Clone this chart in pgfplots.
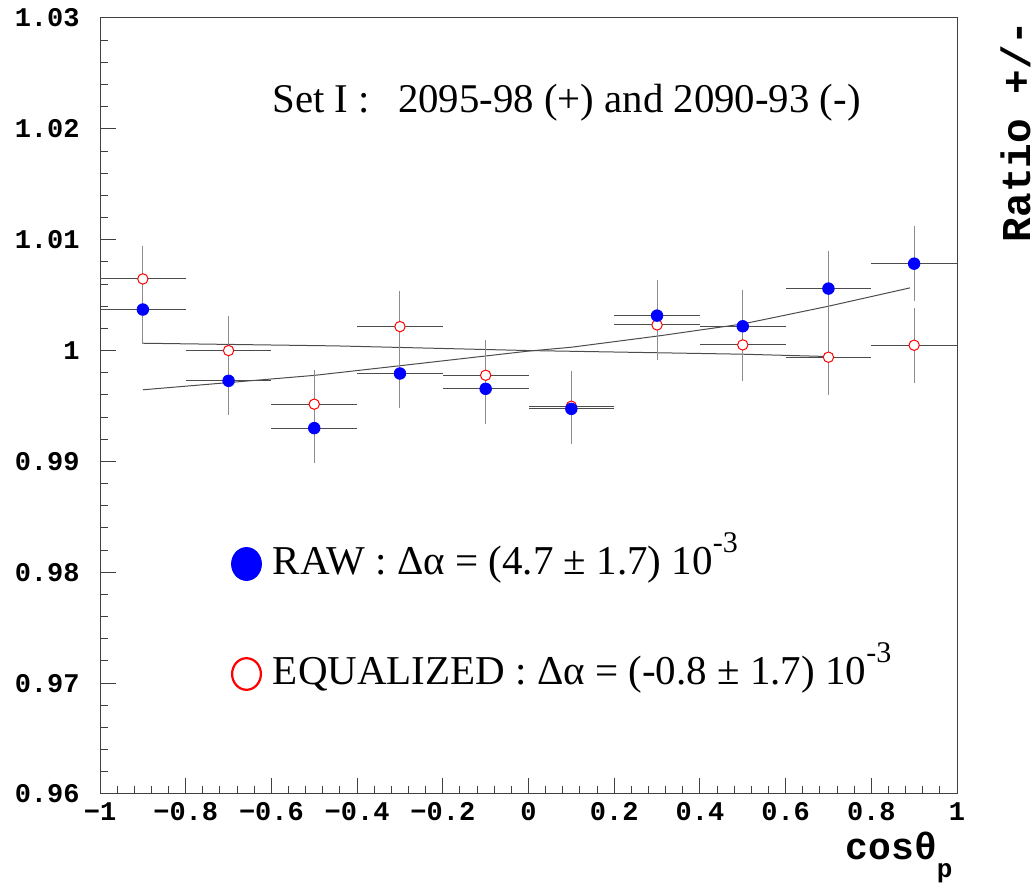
\documentclass[border=0pt]{standalone}
\usepackage{fontspec}
\setmainfont{Liberation Serif}
\newfontfamily\monof{Liberation Mono}
\usepackage{pgfplots}
\pgfplotsset{compat=1.18}
\usepackage{pgfplotstable}

\pgfplotstableread{
x      y        e
-0.9   1.00370  0.0031
-0.7   0.99727  0.0031
-0.5   0.99300  0.0031
-0.3   0.99793  0.0031
-0.1   0.99655  0.0032
0.1    0.99474  0.0032
0.3    1.00315  0.0032
0.5    1.00219  0.0033
0.7    1.00559  0.0034
0.9    1.00784  0.0034
}\rawdata

\pgfplotstableread{
x      y        e
-0.9   1.00646  0.0030
-0.7   1.00000  0.0031
-0.5   0.99516  0.0031
-0.3   1.00216  0.0032
-0.1   0.99777  0.0032
0.1    0.99498  0.0032
0.3    1.00231  0.0032
0.5    1.00051  0.0033
0.7    0.99940  0.0034
0.9    1.00048  0.0034
}\eqdata

\begin{document}
\begin{tikzpicture}
\begin{axis}[
  scale only axis,
  width=428.5pt, height=388pt,
  xmin=-1, xmax=1, ymin=0.96, ymax=1.03,
  clip=false,
  axis line style={line width=0.5pt, black!75},
  tick align=inside,
  xtick pos=lower, ytick pos=left,
  xtick={-1,-0.8,-0.6,-0.4,-0.2,0,0.2,0.4,0.6,0.8,1},
  xticklabels={−1,−0.8,−0.6,−0.4,−0.2,0,0.2,0.4,0.6,0.8,1},
  ytick={0.96,0.97,0.98,0.99,1,1.01,1.02,1.03},
  yticklabels={0.96,0.97,0.98,0.99,1,1.01,1.02,1.03},
  minor x tick num=4, minor y tick num=4,
  major tick length=8pt, minor tick length=4pt,
  tick style={line width=0.5pt, black!75},
  tick label style={font=\monof\bfseries\fontsize{13.5}{16}\selectfont, inner sep=0pt},
  yticklabel style={xshift=-10pt},
  xticklabel style={yshift=-4pt},
  legend style={draw=none, fill=none, inner sep=0pt, outer sep=0pt,
     at={(axis cs:-0.6943,0.98264)}, anchor=north west,
     font=\fontsize{20.5}{24}\selectfont, row sep=34pt, column sep=5.5pt,
     nodes={inner sep=0pt, text height=16pt, text depth=5pt}},
  legend cell align=left,
]
% fit curves
\addplot[forget plot, black!70, line width=0.5pt] coordinates {
 (-0.9,0.99646) (-0.7,0.99711) (-0.5,0.99776) (-0.3,0.99863) (-0.1,0.99951)
 (0,0.99995) (0.1,1.0003) (0.3,1.0013) (0.5,1.0024) (0.7,1.0040) (0.89,1.00565)};
\addplot[forget plot, black!70, line width=0.5pt] coordinates {
 (-0.9,1.00066) (-0.45,1.00042) (0,1.0000) (0.5,0.99967) (0.7,0.99946)};
% equalized error bars
\addplot[forget plot, only marks, mark=none,
  error bars/.cd, y dir=both, y explicit, error mark=none,
  error bar style={line width=0.5pt, draw=black!45}]
  table[x=x, y=y, y error=e] {\eqdata};
\addplot[forget plot, only marks, mark=none,
  error bars/.cd, x dir=both, x fixed=0.1, error mark=none,
  error bar style={line width=0.5pt, draw=black!70}]
  table[x=x, y=y] {\eqdata};
% raw error bars
\addplot[forget plot, only marks, mark=none,
  error bars/.cd, y dir=both, y explicit, error mark=none,
  error bar style={line width=0.5pt, draw=black!45}]
  table[x=x, y=y, y error=e] {\rawdata};
\addplot[forget plot, only marks, mark=none,
  error bars/.cd, x dir=both, x fixed=0.1, error mark=none,
  error bar style={line width=0.5pt, draw=black!70}]
  table[x=x, y=y] {\rawdata};
% markers
\addplot[forget plot, only marks, mark=*, mark size=2.6pt,
  mark options={draw=red, fill=white, line width=0.5pt}]
  table[x=x, y=y] {\eqdata};
\addplot[forget plot, only marks, mark=*, mark size=2.9pt,
  mark options={draw=blue, fill=blue}]
  table[x=x, y=y] {\rawdata};
% legend
\addlegendimage{legend image code/.code={\fill[blue] (0pt,0pt) ellipse (7.5pt and 8.25pt);}}
\addlegendentry{RAW : Δα = (4.7 ± 1.7) 10\raisebox{0.55em}{\fontsize{15}{15}\selectfont -3}}
\addlegendimage{legend image code/.code={\draw[red, line width=1.1pt] (0pt,0pt) ellipse (7.2pt and 7.9pt);}}
\addlegendentry{EQUALIZED : Δα = (-0.8 ± 1.7) 10\raisebox{0.55em}{\fontsize{15}{15}\selectfont -3}}
% annotation
\node[anchor=base west, inner sep=0pt, font=\fontsize{20.4}{24}\selectfont]
  at (rel axis cs:0.2007,0.8776) {Set I :\hspace{9pt} 2095-98 (+) and 2090-93 (-)};
% axis titles
\node[anchor=base east, inner sep=0pt, font=\monof\bfseries\fontsize{19}{22}\selectfont]
  at (rel axis cs:0.9953,-0.085) {cosθ\raisebox{-0.45em}{\fontsize{13}{13}\selectfont p}};
\node[overlay, rotate=90, anchor=base east, inner sep=0pt, font=\monof\bfseries\fontsize{20.5}{24}\selectfont]
  at (rel axis cs:1.0852,0.997) {Ratio +/-};
% page extent
\path (rel axis cs:-0.1167,-0.107) rectangle (rel axis cs:1.0922,1.0232);
\end{axis}
\end{tikzpicture}
\end{document}
